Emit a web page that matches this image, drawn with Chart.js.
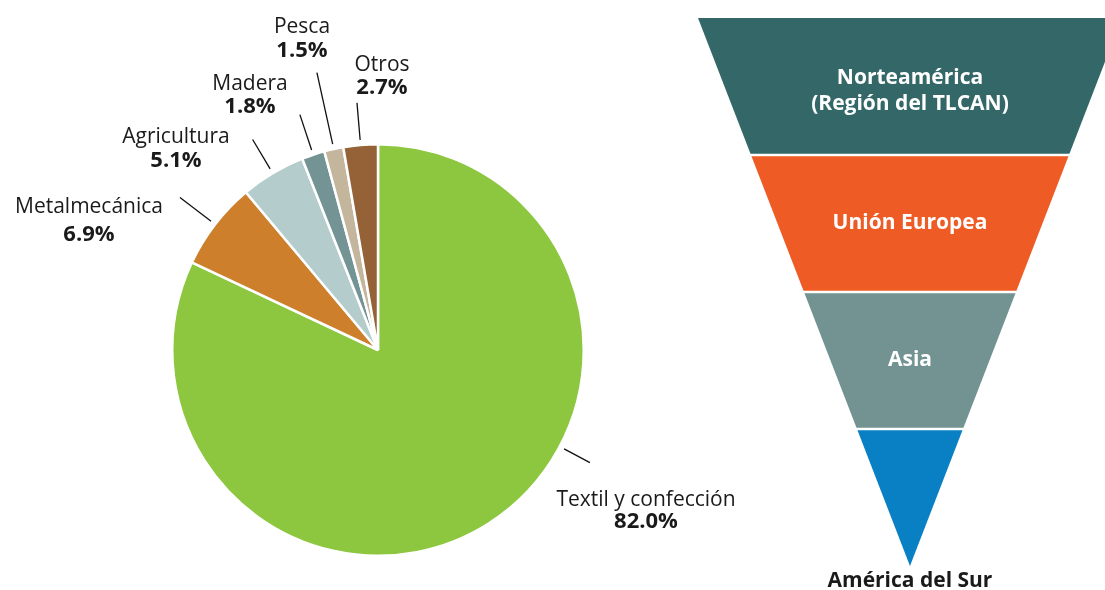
<!DOCTYPE html>
<html>
<head>
<meta charset="utf-8">
<script src="https://cdn.jsdelivr.net/npm/chart.js@4.4.1/dist/chart.umd.min.js"></script>
<style>
  html, body { margin: 0; padding: 0; background: #fff; overflow: hidden; }
  body { width: 1105px; height: 590px; position: relative; }
  #pieBox { position: absolute; left: 0; top: 0; width: 756px; height: 590px; }
  #funnelBox { position: absolute; left: 698px; top: 0; width: 407px; height: 590px; }
</style>
</head>
<body>
<div id="pieBox"><canvas id="pieChart"></canvas></div>
<div id="funnelBox"><canvas id="funnelChart"></canvas></div>

<script>
// exportaciones por sector (%)
var sectors = ['Textil y confección', 'Metalmecánica', 'Agricultura', 'Madera', 'Pesca', 'Otros'];
var shares = [82.0, 6.9, 5.1, 1.8, 1.5, 2.7];
var sectorColors = ['#8dc63f', '#cd7f2b', '#b4cccb', '#739394', '#c4b59d', '#956237'];

// destinos, de mayor a menor
var regions = [['Norteamérica', '(Región del TLCAN)'], ['Unión Europea'], ['Asia'], ['América del Sur']];
var regionColors = ['#346868', '#ee5b25', '#739393', '#0a80c4'];

var FONT = '"Open Sans", "Noto Sans", Arial, sans-serif';
var INK = '#1a1a1a';

// where each slice label sits, relative to the pie centre
// ang: leader angle override (deg clockwise from 12 o'clock), r2: leader outer radius
var labelLayout = [
  { ang: 118, r2: 240, tx: 268, ty: 156, gap: 22 },
  { r2: 250, tx: -289, ty: -137, gap: 28 },
  { r2: 245, tx: -202, ty: -207, gap: 24 },
  { r2: 248, tx: -128, ty: -260, gap: 23 },
  { r2: 284, tx: -76, ty: -317, gap: 24 },
  { r2: 248, tx: 4, ty: -279, gap: 23 }
];

var sliceLabels = {
  id: 'sliceLabels',
  afterDraw: function(chart) {
    var ctx = chart.ctx;
    var arcs = chart.getDatasetMeta(0).data;
    ctx.save();
    arcs.forEach(function(arc, i) {
      var lay = labelLayout[i];
      var p = arc.getProps(['x', 'y', 'startAngle', 'endAngle', 'outerRadius'], true);
      var a = lay.ang != null ? (lay.ang - 90) * Math.PI / 180 : (p.startAngle + p.endAngle) / 2;
      var r1 = p.outerRadius + 5;
      ctx.strokeStyle = '#111';
      ctx.lineWidth = 1.3;
      ctx.beginPath();
      ctx.moveTo(p.x + Math.cos(a) * r1, p.y + Math.sin(a) * r1);
      ctx.lineTo(p.x + Math.cos(a) * lay.r2, p.y + Math.sin(a) * lay.r2);
      ctx.stroke();

      ctx.fillStyle = INK;
      ctx.textAlign = 'center';
      ctx.textBaseline = 'alphabetic';
      ctx.font = '21px ' + FONT;
      ctx.fillText(sectors[i], p.x + lay.tx, p.y + lay.ty);
      ctx.font = 'bold 22px ' + FONT;
      ctx.fillText(shares[i].toFixed(1) + '%', p.x + lay.tx, p.y + lay.ty + lay.gap);
    });
    ctx.restore();
  }
};

new Chart(document.getElementById('pieChart'), {
  type: 'pie',
  data: {
    labels: sectors,
    datasets: [{
      data: shares,
      backgroundColor: sectorColors,
      borderColor: '#ffffff',
      borderWidth: 2.5
    }]
  },
  options: {
    responsive: true,
    maintainAspectRatio: false,
    animation: false,
    events: [],
    layout: { padding: { left: 171, right: 171, top: 143, bottom: 33 } },
    plugins: { legend: { display: false }, tooltip: { enabled: false } }
  },
  plugins: [sliceLabels]
});

// funnel: each level is a horizontal band, half width shrinks linearly to the tip
var levels = regions.length;

var funnelBands = {
  id: 'funnelBands',
  afterDatasetsDraw: function(chart) {
    var ctx = chart.ctx;
    var xs = chart.scales.x, ys = chart.scales.y;
    function px(v) { return xs.getPixelForValue(v); }
    function py(v) { return ys.getPixelForValue(v); }
    ctx.save();
    regions.forEach(function(name, i) {
      var top = levels - i, bot = levels - i - 1;
      var wt = top / levels, wb = bot / levels;
      ctx.fillStyle = regionColors[i];
      ctx.beginPath();
      ctx.moveTo(px(-wt), py(top));
      ctx.lineTo(px(wt), py(top));
      ctx.lineTo(px(wb), py(bot));
      ctx.lineTo(px(-wb), py(bot));
      ctx.closePath();
      ctx.fill();
    });
    // white separators between bands
    ctx.strokeStyle = '#ffffff';
    ctx.lineWidth = 2.5;
    for (var k = 1; k < levels; k++) {
      var w = k / levels;
      ctx.beginPath();
      ctx.moveTo(px(-w) - 3, py(k));
      ctx.lineTo(px(w) + 3, py(k));
      ctx.stroke();
    }
    // band labels
    ctx.textAlign = 'center';
    ctx.textBaseline = 'middle';
    ctx.font = 'bold 21px ' + FONT;
    regions.forEach(function(lines, i) {
      var mid = levels - i - 0.5;
      if (i === levels - 1) {
        ctx.fillStyle = INK;
        ctx.fillText(lines[0], px(0), py(0) + 15);
        return;
      }
      ctx.fillStyle = '#ffffff';
      var cy = py(mid) + (lines.length > 1 ? 5 : 0);
      lines.forEach(function(t, j) {
        ctx.fillText(t, px(0), cy + (j - (lines.length - 1) / 2) * 26);
      });
    });
    ctx.restore();
  }
};

new Chart(document.getElementById('funnelChart'), {
  type: 'scatter',
  data: {
    datasets: [{
      data: regions.map(function(r, i) { return { x: 0, y: levels - i - 0.5 }; }),
      pointRadius: 0
    }]
  },
  options: {
    responsive: true,
    maintainAspectRatio: false,
    animation: false,
    events: [],
    layout: { padding: { left: 0, right: 0, top: 18, bottom: 24 } },
    scales: {
      x: { type: 'linear', min: -1, max: 0.92, display: false },
      y: { type: 'linear', min: 0, max: levels, display: false }
    },
    plugins: { legend: { display: false }, tooltip: { enabled: false } }
  },
  plugins: [funnelBands]
});
</script>
</body>
</html>
